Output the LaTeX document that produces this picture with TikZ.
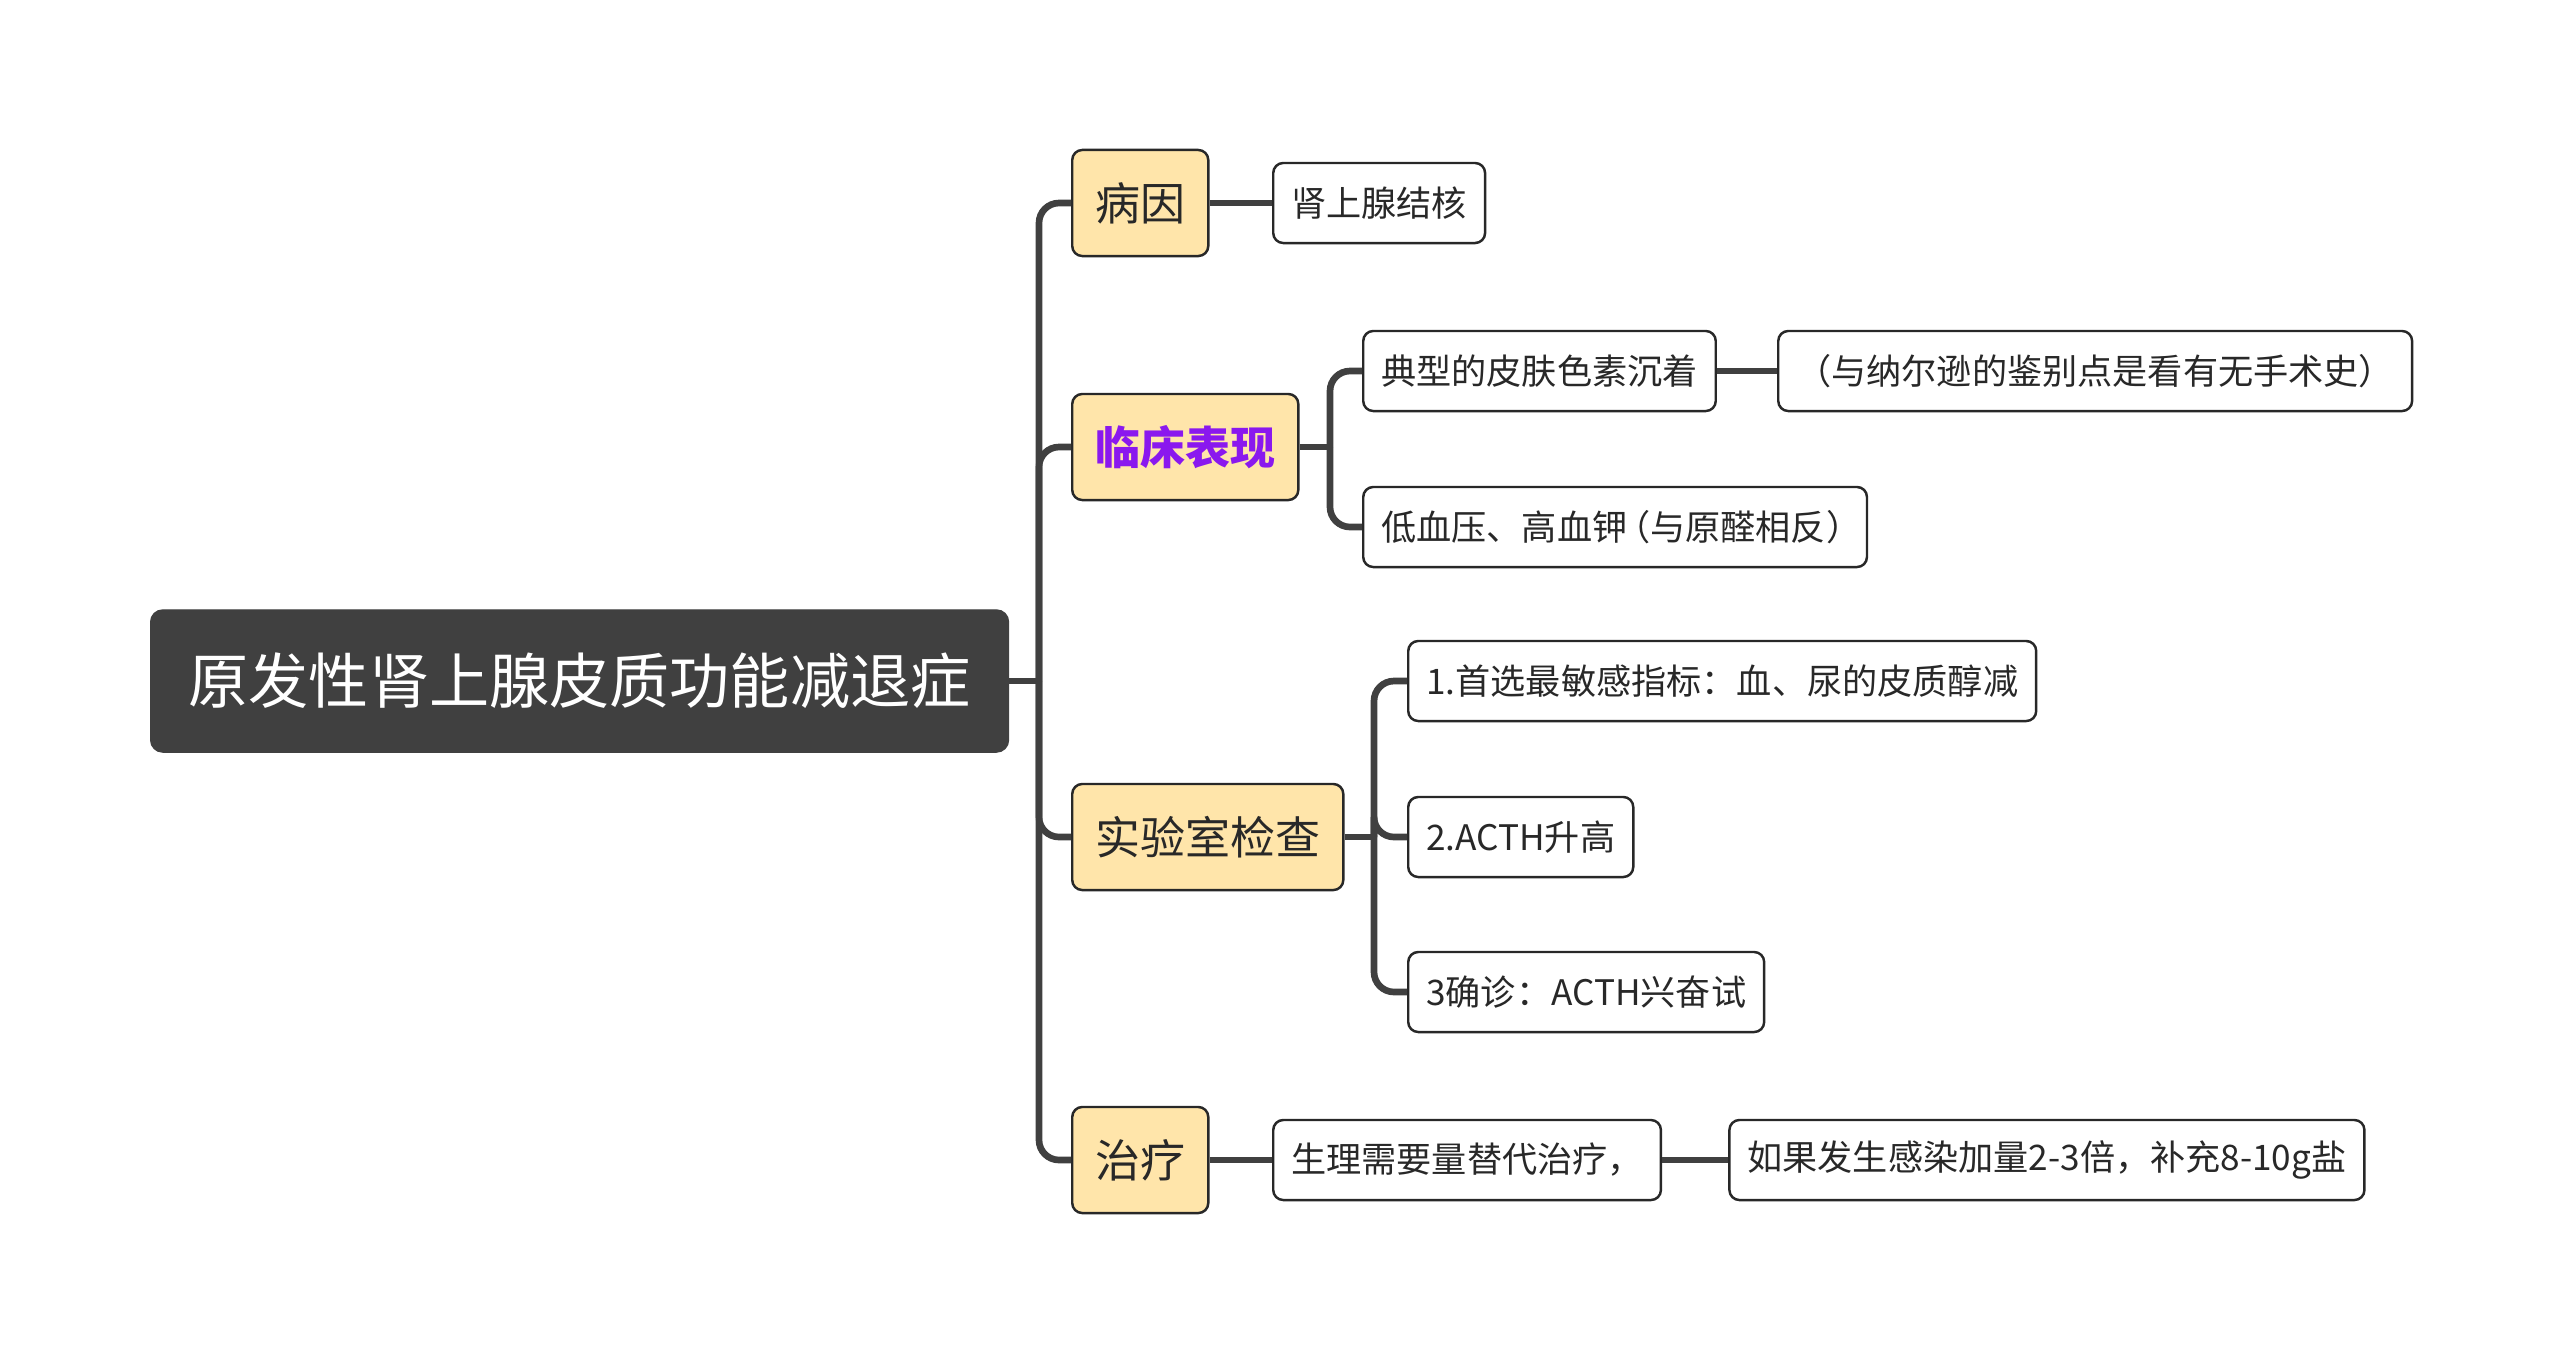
\documentclass[tikz,border=0pt]{standalone}
\usepackage{fontspec}
\setmainfont{Noto Sans CJK SC}
\usepackage{xcolor}
\usetikzlibrary{positioning}

\definecolor{rootgray}{RGB}{64,64,64}
\definecolor{linegray}{RGB}{64,64,64}
\definecolor{topicyellow}{RGB}{255,229,170}
\definecolor{textdark}{RGB}{40,40,40}
\definecolor{purplehl}{RGB}{138,24,238}

\begin{document}
\begin{tikzpicture}[x=0.01cm, y=-0.01cm,
    rootbox/.style={rectangle, rounded corners=0.12cm, fill=rootgray, draw=rootgray, text=white,
        font=\fontsize{17.1pt}{19pt}\selectfont, minimum height=1.42cm, inner xsep=0.38cm, anchor=west},
    topicbox/.style={rectangle, rounded corners=0.1cm, fill=topicyellow, draw=textdark, line width=0.7pt,
        text=textdark, font=\fontsize{12.8pt}{14pt}\selectfont, minimum height=1.06cm, inner xsep=0.23cm, anchor=west},
    leafbox/.style={rectangle, rounded corners=0.1cm, fill=white, draw=textdark, line width=0.7pt,
        text=textdark, font=\fontsize{10pt}{12pt}\selectfont, minimum height=0.8cm, inner xsep=0.18cm, anchor=west},
    link/.style={draw=linegray, line width=1.9pt, rounded corners=0.2cm}]

    \useasboundingbox (0,0) rectangle (2560,1363);

    % root
    \node (root) [rootbox] at (150,681) {原发性肾上腺皮质功能减退症};

    % main topics
    \node (bingyin) [topicbox] at (1071,203) {病因};
    \node (linchuang) [topicbox, text=purplehl, font=\fontsize{12.8pt}{14pt}\selectfont\bfseries] at (1071,447) {临床表现};
    \node (shiyan) [topicbox] at (1071,837) {实验室检查};
    \node (zhiliao) [topicbox] at (1071,1160) {治疗};

    % details
    \node (jiehe) [leafbox] at (1272,203) {肾上腺结核};
    \node (sesu) [leafbox] at (1362,371) {典型的皮肤色素沉着};
    \node (naersun) [leafbox, right=0.6cm of sesu] {（与纳尔逊的鉴别点是看有无手术史）};
    \node (xueya) [leafbox] at (1362,527) {低血压、高血钾\kern-0.35em（与原醛相反）\kern-0.35em};
    \node (zhibiao) [leafbox] at (1407,681) {1.首选最敏感指标：血、尿的皮质醇减};
    \node (acth) [leafbox] at (1407,837) {2.ACTH升高};
    \node (quezhen) [leafbox] at (1407,992) {3确诊：ACTH兴奋试};
    \node (tidai) [leafbox] at (1272,1160) {生理需要量替代治疗，};
    \node (ganran) [leafbox, right=0.66cm of tidai] {如果发生感染加量2-3倍，补充8-10g盐};

    % junctions
    \coordinate (trunk) at (1039,681);
    \coordinate (jlc) at (1330,447);
    \coordinate (jsy) at (1374,837);

    % connectors
    \draw [link] (root.east) -- (trunk);
    \foreach \t in {bingyin, linchuang, shiyan, zhiliao}
        \draw [link] (trunk) |- (\t.west);
    \draw [link] (bingyin.east) -- (jiehe.west);
    \draw [link] (linchuang.east) -- (jlc);
    \draw [link] (jlc) |- (sesu.west);
    \draw [link] (jlc) |- (xueya.west);
    \draw [link] (sesu.east) -- (naersun.west);
    \draw [link] (shiyan.east) -- (jsy);
    \foreach \t in {zhibiao, acth, quezhen}
        \draw [link] (jsy) |- (\t.west);
    \draw [link] (zhiliao.east) -- (tidai.west);
    \draw [link] (tidai.east) -- (ganran.west);
\end{tikzpicture}
\end{document}
